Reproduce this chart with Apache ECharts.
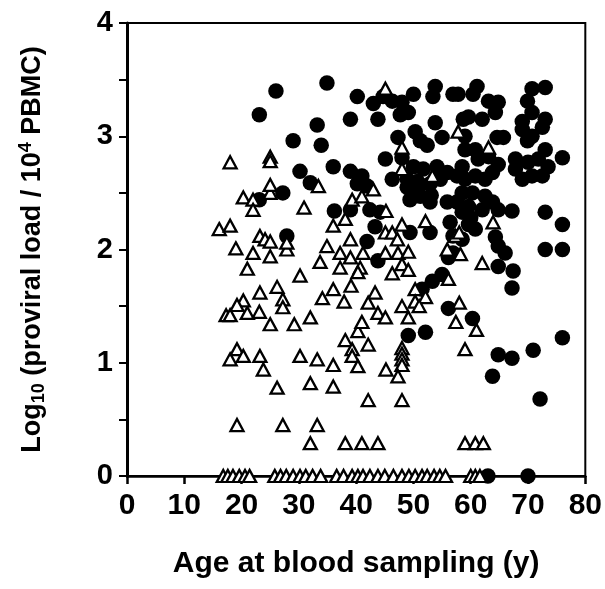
<!DOCTYPE html>
<html><head><meta charset="utf-8">
<script src="https://cdn.jsdelivr.net/npm/echarts@6/dist/echarts.min.js"></script>
<style>html,body{margin:0;padding:0;background:#fff}#c{width:605px;height:589px}</style>
</head><body><div id="c"></div>
<script>
// Axis ranges / ticks
const xMin = 0, xMax = 80, xStep = 10;
const yMin = 0, yMax = 4, yStep = 1;

// Open triangles: [age (y), log10 proviral load]
const triangles = [
  [16.8,0],[17.6,0],[18.5,0],[19.6,0],[20.6,0],[21.4,0],
  [25.8,0],[26.8,0],[27.8,0],[29.0,0],[30.2,0],[31.2,0],[32.4,0],[33.8,0],
  [36.6,0],[37.8,0],[39.3,0],[40.3,0],[41.2,0],[42.4,0],[43.8,0],[45.0,0],[46.5,0],[48.0,0],[49.2,0],[50.3,0],[51.5,0],[52.4,0],[53.6,0],[54.6,0],[55.6,0],
  [60.0,0],[60.8,0],[61.6,0],
  [32.0,0.29],[38.1,0.29],[41.0,0.29],[43.8,0.29],[59.0,0.29],[60.8,0.29],[62.2,0.29],
  [19.2,0.45],[27.2,0.45],[33.2,0.45],
  [42.1,0.67],[48.0,0.67],
  [26.2,0.78],[32.0,0.82],[36.0,0.79],
  [18.0,1.03],[19.2,1.12],[20.3,1.06],[23.2,1.06],[23.8,0.94],[30.2,1.06],[33.2,1.03],[36.0,0.98],
  [38.1,1.20],[39.3,1.12],[39.3,1.06],[42.1,1.16],[40.3,0.97],[45.2,0.94],[40.3,1.28],[41.0,1.36],
  [48.0,1.13],[48.0,1.08],[48.0,1.03],[48.0,0.98],[47.3,0.88],[57.4,1.36],[58.0,1.53],[61.0,1.29],[59.0,1.12],
  [17.3,1.42],[18.0,1.42],[21.0,1.44],[23.1,1.45],[20.3,1.55],[19.2,1.51],[23.2,1.62],[26.2,1.67],
  [27.2,1.56],[27.2,1.49],[25.0,1.34],[29.2,1.34],[32.0,1.40],[34.1,1.57],[36.0,1.65],[37.9,1.54],
  [39.1,1.68],[43.3,1.62],[42.1,1.53],[43.8,1.44],[45.1,1.40],[48.0,1.50],[49.1,1.40],[50.3,1.65],
  [50.3,1.54],[52.1,1.58],[51.0,1.50],[30.2,1.77],[21.0,1.83],[22.0,1.97],[25.0,1.94],[19.0,2.01],[27.9,2.00],
  [37.2,1.97],[39.0,1.93],[41.2,1.97],[45.1,1.97],[47.3,1.97],[49.1,1.98],[37.2,1.84],[40.7,1.84],
  [40.3,1.80],[48.0,1.87],[49.1,1.82],[46.3,1.79],[56.1,1.74],[33.7,1.89],[34.9,2.03],[58.2,1.96],[62.0,1.88],
  [16.1,2.18],[18.0,2.21],[23.2,2.12],[24.1,2.09],[25.0,2.07],[27.9,2.06],[36.0,2.21],[38.1,2.27],
  [39.0,2.09],[20.3,2.46],[22.0,2.44],[22.0,2.35],[25.0,2.50],[25.0,2.57],[30.9,2.37],[33.4,2.56],
  [18.0,2.77],[25.0,2.82],[25.0,2.78],[39.3,2.44],[41.0,2.47],[43.0,2.53],[45.2,2.34],[48.0,2.22],
  [52.1,2.25],[45.1,2.15],[46.3,2.15],[47.2,2.09],[57.3,2.12],[55.9,2.00],[58.0,2.15],[63.9,2.24],
  [48.0,2.90],[48.0,2.71],[53.3,2.65],[57.8,3.04],[63.1,2.90],[45.1,3.42]
];

// Filled circles: [age (y), log10 proviral load]
const circles = [
  [26.0,3.40],[34.9,3.47],[23.1,3.19],[33.2,3.10],[39.0,3.15],[29.0,2.96],[33.9,2.92],[36.0,2.73],
  [39.0,2.69],[30.2,2.69],[32.0,2.59],[27.2,2.50],[23.1,2.44],[36.2,2.34],[39.0,2.35],[27.9,2.12],
  [40.2,3.35],[43.0,3.29],[44.7,3.35],[46.3,3.31],[48.0,3.30],[47.7,3.19],[49.1,3.21],[50.0,3.37],
  [53.4,3.35],[53.8,3.44],[56.9,3.37],[43.8,3.15],[53.8,3.12],[58.7,3.15],[47.3,2.99],[50.3,3.04],
  [51.2,2.96],[52.4,2.92],[55.0,2.99],[45.1,2.80],[48.0,2.81],[41.0,2.65],[40.2,2.58],[41.9,2.56],
  [46.3,2.62],[50.0,2.73],[51.7,2.71],[54.1,2.73],[55.9,2.68],[57.6,2.65],[50.7,2.60],[48.9,2.55],
  [52.9,2.58],[54.7,2.62],[49.4,2.44],[51.2,2.47],[52.9,2.42],[55.9,2.42],[57.6,2.42],[42.4,2.35],
  [44.2,2.33],[43.3,2.20],[49.4,2.15],[52.9,2.15],[56.4,2.24],[56.9,2.12],[41.9,2.07],[56.9,1.97],
  [43.8,1.90],[56.1,1.93],[55.0,1.78],[53.3,1.72],[51.5,1.65],[56.1,1.48],[49.1,1.24],[52.1,1.27],
  [48.9,2.62],[50.7,2.53],[53.1,2.48],[60.0,2.28],
  [61.1,3.44],[60.4,3.37],[57.8,3.37],[63.1,3.31],[64.8,3.30],[64.3,3.21],[62.0,3.15],[59.6,3.17],
  [70.7,3.42],[73.0,3.43],[69.9,3.31],[70.7,3.21],[73.0,3.15],[72.5,3.08],[69.0,3.13],[69.0,3.06],
  [70.7,3.00],[69.9,2.96],[65.7,2.99],[64.6,2.99],[59.0,3.00],[59.0,2.88],[60.8,2.88],[61.3,2.80],
  [63.1,2.82],[64.8,2.75],[58.5,2.73],[59.0,2.62],[60.8,2.65],[62.5,2.62],[63.8,2.68],[67.8,2.80],
  [67.8,2.71],[69.0,2.62],[70.0,2.77],[71.8,2.80],[73.0,2.88],[76.0,2.81],[73.5,2.73],[72.5,2.65],
  [70.7,2.65],[58.5,2.50],[60.3,2.50],[62.5,2.47],[63.8,2.42],[59.6,2.38],[62.0,2.35],[64.8,2.35],
  [67.2,2.34],[58.5,2.33],[73.0,2.33],[59.6,2.22],[60.8,2.18],[76.0,2.22],[58.5,2.09],[64.3,2.11],
  [64.8,2.03],[66.0,1.97],[73.0,2.00],[76.0,2.00],[64.8,1.85],[67.4,1.81],[67.2,1.66],[60.3,1.39],
  [76.0,1.22],[70.9,1.11],[64.8,1.07],[67.2,1.04],[63.8,0.88],[72.1,0.68],[63.0,0],[70.0,0]
];

const FONT = '"Liberation Sans", Arial, Helvetica, sans-serif';
const chart = echarts.init(document.getElementById('c'), null, {renderer: 'canvas'});
chart.setOption({
  backgroundColor: '#fff',
  animation: false,
  grid: {left: 127, right: 19, top: 23, bottom: 113, show: true, borderColor: '#000', borderWidth: 2, backgroundColor: 'transparent'},
  xAxis: {
    type: 'value', min: xMin, max: xMax, interval: xStep,
    name: 'Age at blood sampling (y)', nameLocation: 'middle', nameGap: 73,
    nameTextStyle: {fontFamily: FONT, fontWeight: 'bold', fontSize: 30, color: '#000'},
    axisLine: {show: true, onZero: false, lineStyle: {color: '#000', width: 2.5}},
    axisTick: {show: true, inside: false, length: 8, lineStyle: {color: '#000', width: 2.5}},
    axisLabel: {margin: 15, fontFamily: FONT, fontWeight: 'bold', fontSize: 30, color: '#000'},
    splitLine: {show: false}
  },
  yAxis: {
    type: 'value', min: yMin, max: yMax, interval: yStep,
    name: '{n|Log}{s|10}{n| (proviral load / 10}{p|4}{n| PBMC)}',
    nameLocation: 'middle', nameGap: 79,
    nameTextStyle: {
      fontFamily: FONT, fontWeight: 'bold', fontSize: 27, color: '#000',
      rich: {
        n: {fontFamily: FONT, fontWeight: 'bold', fontSize: 27, color: '#000'},
        s: {fontFamily: FONT, fontWeight: 'bold', fontSize: 18, color: '#000', padding: [13, 0, 0, 0]},
        p: {fontFamily: FONT, fontWeight: 'bold', fontSize: 18, color: '#000', padding: [0, 0, 13, 0]}
      }
    },
    axisLine: {show: true, onZero: false, lineStyle: {color: '#000', width: 3}},
    axisTick: {show: true, inside: false, length: 8, lineStyle: {color: '#000', width: 2}},
    minorTick: {show: true, splitNumber: 2, length: 8, lineStyle: {color: '#000', width: 2}},
    axisLabel: {margin: 14, fontFamily: FONT, fontWeight: 'bold', fontSize: 29, color: '#000'},
    splitLine: {show: false}
  },
  series: [
    {
      type: 'scatter', data: circles, symbol: 'circle', symbolSize: 15.5, clip: false, z: 2,
      itemStyle: {color: '#000', opacity: 1}
    },
    {
      type: 'scatter', data: triangles, symbol: 'triangle', symbolSize: [13, 12], clip: false, z: 3,
      itemStyle: {color: '#fff', borderColor: '#000', borderWidth: 2.3, opacity: 1}
    }
  ]
});
</script>
</body></html>
